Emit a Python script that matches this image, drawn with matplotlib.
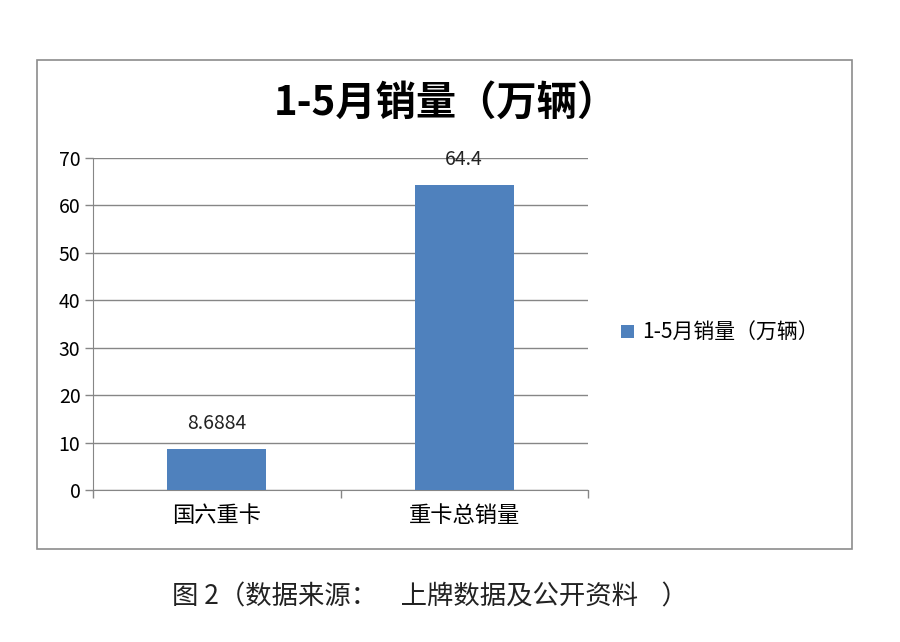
import matplotlib
matplotlib.use('Agg')
import matplotlib.pyplot as plt
from matplotlib.patches import Rectangle

plt.rcParams['font.family'] = ['Noto Sans CJK SC', 'DejaVu Sans']

categorias = ['国六重卡', '重卡总销量']
ventas = [8.6884, 64.4]
etiquetas = ['8.6884', '64.4']
serie = '1-5月销量（万辆）'
titulo = '1-5月销量（万辆）'
pie = '图 2（数据来源：    上牌数据及公开资料    ）'
yticks = [0, 10, 20, 30, 40, 50, 60, 70]

fig = plt.figure(figsize=(9, 6.42), dpi=100)

# marco del gráfico
fig.patches.append(Rectangle((37 / 900, 1 - 549 / 642), 815 / 900, 489 / 642,
                             transform=fig.transFigure, fill=False,
                             edgecolor='#8c8c8c', linewidth=1.2))

ax = fig.add_axes([93 / 900, 1 - 490 / 642, 495 / 900, 332 / 642])
x = list(range(len(categorias)))
barras = ax.bar(x, ventas, width=0.4, color='#4F81BD', label=serie, zorder=3)

for b, t in zip(barras, etiquetas):
    ax.annotate(t, (b.get_x() + b.get_width() / 2, b.get_height()),
                xytext=(0, 18), textcoords='offset points',
                ha='center', va='center', fontsize=14, color='#222222')

ax.set_xlim(-0.5, len(categorias) - 0.5)
ax.set_ylim(0, 70)
ax.set_yticks(yticks)
ax.tick_params(axis='y', labelsize=14, length=6, color='#868686', width=1, pad=3)
ax.grid(axis='y', color='#868686', linewidth=1, zorder=0)

ax.set_xticks([-0.5, 0.5, 1.5])
ax.set_xticklabels([])
ax.set_xticks(x, minor=True)
ax.set_xticklabels(categorias, minor=True, fontsize=16)
ax.tick_params(axis='x', which='major', length=6, color='#868686', width=1)
ax.tick_params(axis='x', which='minor', length=0, pad=10)

for lado in ['top', 'right']:
    ax.spines[lado].set_visible(False)
ax.spines['left'].set_color('#868686')
ax.spines['bottom'].set_color('#868686')

fig.text(446 / 900, 1 - 103 / 642, titulo, ha='center', va='center',
         fontsize=29, fontweight='bold')

ax.legend(loc='center left', bbox_to_anchor=(1.067, 0.473), frameon=False,
          fontsize=15, handlelength=0.6, handleheight=0.6, handletextpad=0.4,
          borderpad=0, borderaxespad=0)

fig.text(430 / 900, 1 - 597 / 642, pie, ha='center', va='center', fontsize=19,
         color='#222222')

fig.savefig('out.png', dpi=100)
